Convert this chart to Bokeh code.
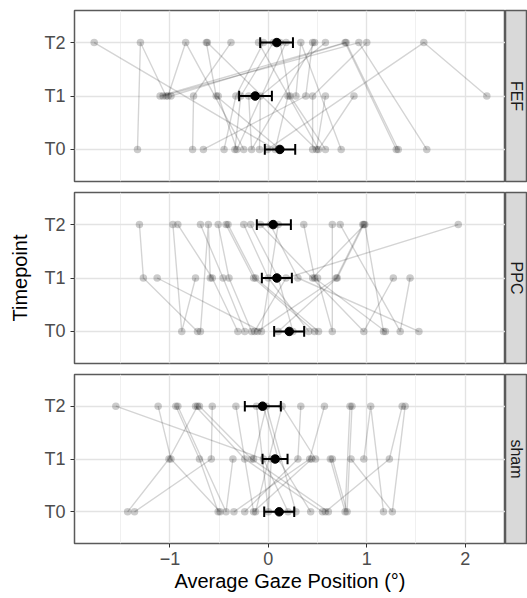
import math
from bokeh.plotting import figure
from bokeh.models import Range1d, FixedTicker
from bokeh.layouts import column, row
from bokeh.embed import file_html
from bokeh.resources import INLINE
from bokeh.core.properties import value

# ---------------- data ----------------
timepoints = ["T0", "T1", "T2"]
panels = ["FEF", "PPC", "sham"]
x_ticks = [-1, 0, 1, 2]
x_title = "Average Gaze Position (°)"
y_title = "Timepoint"

# per-subject average gaze position at each timepoint (same subject order in each list)
fef_t0 = [0.07, -1.33, -0.25, 1.30, 1.61, 1.32, -0.77, 0.12, 0.49, -0.66, -0.45, -0.34, -0.32, -0.17, -0.09, -0.01, 0.51, 0.58, 0.74, 0.45]
fef_t1 = [0.20, -1.04, -1.02, -1.10, -1.07, -0.99, -0.76, -0.53, 0.58, 0.38, -0.33, -0.28, -0.51, -0.20, -0.08, 2.22, 0.87, 0.22, 0.28, 0.45]
fef_t2 = [-1.77, -1.30, -0.84, 0.78, 0.92, 0.79, -0.38, -0.63, -0.62, 0.45, -0.05, 0.05, 0.18, 0.47, 0.58, 1.58, -0.10, 0.12, 0.33, 1.00]

ppc_t0 = [-0.72, -0.88, -0.69, -0.07, -0.31, -0.24, -0.17, 0.47, 0.51, -0.14, 0.41, 0.25, 0.10, -0.11, 1.17, 1.19, 0.65, 0.97, 1.34, 1.53]
ppc_t1 = [-1.27, -0.74, -0.59, -1.13, -0.57, -0.46, -0.40, -0.15, -0.13, 0.18, 0.00, 0.10, 0.70, 0.69, 0.45, 0.47, 0.50, 1.27, 1.44, 0.30]
ppc_t2 = [-1.31, -0.97, -0.61, 0.10, -0.92, -0.69, -0.51, -0.43, -0.41, 1.93, -0.25, -0.18, 0.97, 0.96, 0.98, 0.36, 0.65, -0.08, 0.73, 0.02]

sham_t0 = [-1.43, -1.36, -0.49, 0.20, 1.17, 1.26, 0.80, 0.78, 0.58, -0.51, -0.43, 0.55, 0.61, -0.35, -0.24, -0.15, -0.13, 0.00, 0.28, 0.43]
sham_t1 = [-1.01, -0.58, -0.99, -0.05, 0.97, 0.84, 0.65, 0.63, 1.23, -0.70, -0.36, -0.24, -0.17, 0.42, 0.30, 0.44, 0.48, 0.03, -0.15, 0.10]
sham_t2 = [-0.72, -0.57, -1.12, -1.55, 1.04, 1.39, 0.85, 0.83, 1.36, -0.94, -0.92, -0.74, -0.70, 0.57, 0.33, -0.33, 0.14, -0.12, -0.02, -0.05]

# group mean and error bar limits, order T0, T1, T2
fef_mean = [0.117, -0.134, 0.086]
fef_lo = [-0.036, -0.297, -0.083]
fef_hi = [0.273, 0.036, 0.250]
ppc_mean = [0.212, 0.086, 0.049]
ppc_lo = [0.059, -0.066, -0.117]
ppc_hi = [0.364, 0.239, 0.229]
sham_mean = [0.110, 0.069, -0.059]
sham_lo = [-0.042, -0.059, -0.239]
sham_hi = [0.263, 0.195, 0.127]

# ---------------- styling ----------------
FONT = "Liberation Sans"
ypos = {t: i + 1 for i, t in enumerate(timepoints)}


def make_panel(t0, t1, t2, mean, lo, hi, height, top, bottom, show_x, show_ylab):
    p = figure(width=505, height=height, x_range=Range1d(-1.97, 2.41), y_range=Range1d(0.4, 3.6),
               output_backend="svg", toolbar_location=None,
               min_border_left=74, min_border_right=0, min_border_top=top, min_border_bottom=bottom)
    p.background_fill_color = "white"
    p.border_fill_color = "white"
    p.outline_line_color = "#5a5a5a"
    p.outline_line_width = 1.5

    tick = FixedTicker(ticks=x_ticks, minor_ticks=[-1.5, -0.5, 0.5, 1.5])
    p.xaxis.ticker = tick
    p.xgrid.ticker = tick
    p.xgrid.grid_line_color = "#e3e3e3"
    p.xgrid.grid_line_width = 1.4
    p.xgrid.minor_grid_line_color = "#eeeeee"
    p.xgrid.minor_grid_line_width = 0.9
    yt = FixedTicker(ticks=[ypos[t] for t in timepoints])
    p.yaxis.ticker = yt
    p.ygrid.ticker = yt
    p.ygrid.grid_line_color = "#e3e3e3"
    p.ygrid.grid_line_width = 1.4
    p.yaxis.major_label_overrides = {ypos[t]: t for t in timepoints}

    for ax in (p.xaxis, p.yaxis):
        ax.axis_line_color = None
        ax.major_tick_line_color = "#333333"
        ax.major_tick_out = 4
        ax.major_tick_in = 0
        ax.minor_tick_line_color = None
        ax.major_label_text_font = FONT
        ax.major_label_text_font_size = "18px"
        ax.major_label_text_color = "#4d4d4d"
        ax.axis_label_text_font = FONT
        ax.axis_label_text_font_size = "20px"
        ax.axis_label_text_font_style = "normal"
        ax.axis_label_text_color = "black"
    p.yaxis.major_label_standoff = 5
    p.xaxis.major_label_standoff = 4

    if show_x:
        p.xaxis.axis_label = x_title
        p.xaxis.axis_label_standoff = 2
    else:
        p.xaxis.visible = False
    if show_ylab:
        p.yaxis.axis_label = y_title
        p.yaxis.axis_label_standoff = 10

    # subject paths (connected in order of gaze position)
    xs, ys = [], []
    for a, b, c in zip(t0, t1, t2):
        pts = sorted([(a, ypos["T0"]), (b, ypos["T1"]), (c, ypos["T2"])])
        xs.append([q[0] for q in pts])
        ys.append([q[1] for q in pts])
    p.multi_line(xs, ys, line_color="black", line_alpha=0.17, line_width=1.4)

    px = list(t0) + list(t1) + list(t2)
    py = [ypos["T0"]] * len(t0) + [ypos["T1"]] * len(t1) + [ypos["T2"]] * len(t2)
    p.scatter(px, py, size=7.5, fill_color="black", fill_alpha=0.2, line_color=None)

    my = [ypos[t] for t in timepoints]
    p.segment(lo, my, hi, my, line_color="black", line_width=2)
    p.segment(lo, [y - 0.1 for y in my], lo, [y + 0.1 for y in my], line_color="black", line_width=2)
    p.segment(hi, [y - 0.1 for y in my], hi, [y + 0.1 for y in my], line_color="black", line_width=2)
    p.scatter(mean, my, size=8.5, fill_color="black", line_color="black")
    return p


def make_strip(label, height, top, bottom):
    s = figure(width=22, height=height, x_range=Range1d(0, 1), y_range=Range1d(0, 1),
               output_backend="svg", toolbar_location=None, x_axis_location=None, y_axis_location=None,
               min_border_left=0, min_border_right=0, min_border_top=top, min_border_bottom=bottom)
    s.xgrid.visible = False
    s.ygrid.visible = False
    s.background_fill_color = "#d9d9d9"
    s.border_fill_color = "white"
    s.outline_line_color = "#5a5a5a"
    s.outline_line_width = 1.5
    s.text(x=[0.5], y=[0.5], text=[label], angle=-math.pi / 2, text_align="center",
           text_baseline="middle", text_font=value(FONT), text_font_size="16px", text_color="#1a1a1a")
    return s


specs = [
    (fef_t0, fef_t1, fef_t2, fef_mean, fef_lo, fef_hi, 186, 10, 5, False, False),
    (ppc_t0, ppc_t1, ppc_t2, ppc_mean, ppc_lo, ppc_hi, 182, 6, 5, False, True),
    (sham_t0, sham_t1, sham_t2, sham_mean, sham_lo, sham_hi, 230, 6, 55, True, False),
]

rows = []
for name, sp in zip(panels, specs):
    p = make_panel(*sp)
    s = make_strip(name, sp[6], sp[7], sp[8])
    rows.append(row(p, s, spacing=0))

layout = column(*rows, spacing=0)

open("out.html", "w").write(file_html(layout, INLINE))
